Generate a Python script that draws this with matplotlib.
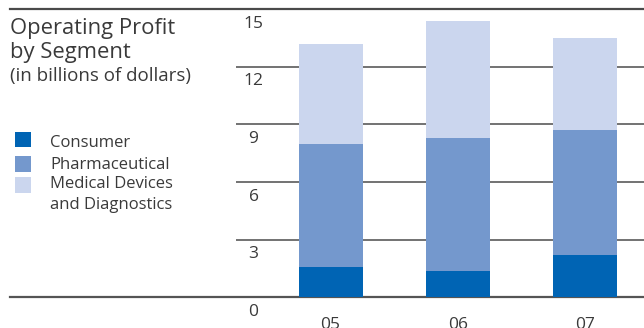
"""Stacked operating profit by segment, 2005-2007."""

import matplotlib.pyplot as plt
import matplotlib.transforms as mtransforms
from matplotlib.patches import Rectangle

plt.rcParams["font.family"] = ["Open Sans", "DejaVu Sans"]

years = ["05", "06", "07"]
consumer = [1.58, 1.37, 2.22]
pharmaceutical = [6.39, 6.90, 6.48]
medical_devices = [5.20, 6.10, 4.79]
y_ticks = [0, 3, 6, 9, 12, 15]

segment_names = ["Consumer", "Pharmaceutical", "Medical Devices"]
segment_colors = ["#0064b4", "#7498cd", "#cbd6ee"]
text_color = "#3a3a3a"

fig = plt.figure(figsize=(6.44, 3.28), dpi=100)
ax = fig.add_axes([236 / 644, (328 - 297.3) / 328, 408 / 644, (297.3 - 8.8) / 328])

x = range(len(years))
bottom2 = [c + p for c, p in zip(consumer, pharmaceutical)]
ax.bar(x, consumer, width=0.503, color=segment_colors[0], zorder=3)
ax.bar(x, pharmaceutical, width=0.503, bottom=consumer, color=segment_colors[1], zorder=3)
ax.bar(x, medical_devices, width=0.503, bottom=bottom2, color=segment_colors[2], zorder=3)

ax.set_xlim(-0.743, 2.464)
ax.set_ylim(0, 15)
ax.axis("off")

# inner gridlines run only across the plot area
for v in y_ticks[1:-1]:
    ax.axhline(v, color="#727272", lw=1.4, zorder=1)

# baseline and top rule stretch across the whole figure width
span = mtransforms.blended_transform_factory(fig.transFigure, ax.transData)
for v, c in [(0, "#555555"), (15, "#4a4a4a")]:
    ax.plot([10 / 644, 1], [v, v], color=c, lw=1.6, transform=span,
            clip_on=False, zorder=2)

for v in y_ticks:
    ax.annotate(str(v), xy=(253.5, v), xycoords=("figure pixels", "data"),
                xytext=(0, -13.5), textcoords="offset points",
                ha="center", va="baseline", fontsize=12.5, color=text_color)

for i, yr in enumerate(years):
    ax.annotate(yr, xy=(i, 0), xycoords="data", xytext=(0, -14.5),
                textcoords="offset points", ha="center", va="top",
                fontsize=12.5, color=text_color)

fig.text(10 / 644, 1 - 34.3 / 328, "Operating Profit", fontsize=15.8,
         color=text_color, va="baseline")
fig.text(10 / 644, 1 - 57.7 / 328, "by Segment", fontsize=15.8,
         color=text_color, va="baseline")
fig.text(10 / 644, 1 - 81 / 328, "(in billions of dollars)", fontsize=13.5,
         color=text_color, va="baseline")

# legend swatches and labels
swatch_tops = [131.7, 156.0, 177.3]
label_baselines = [146.7, 169.0, 188.3]
for top, base, name, col in zip(swatch_tops, label_baselines, segment_names, segment_colors):
    fig.add_artist(Rectangle((15 / 644, 1 - (top + 15.6) / 328), 16 / 644, 15.6 / 328,
                             transform=fig.transFigure, color=col, lw=0))
    fig.text(50 / 644, 1 - base / 328, name, fontsize=12, color=text_color,
             va="baseline")
fig.text(50 / 644, 1 - 209.3 / 328, "and Diagnostics", fontsize=12,
         color=text_color, va="baseline")

fig.savefig("out.png", dpi=100)
